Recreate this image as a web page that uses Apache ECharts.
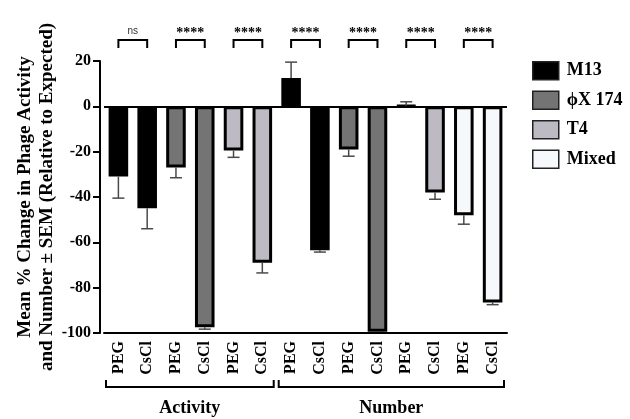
<!DOCTYPE html>
<html>
<head>
<meta charset="utf-8">
<script src="https://cdn.jsdelivr.net/npm/echarts@6/dist/echarts.min.js"></script>
<style>
  html, body { margin: 0; padding: 0; background: #fff; }
  #chart { width: 630px; height: 419px; }
</style>
</head>
<body>
<div id="chart"></div>
<script>
// categories along the x axis
const categories = ["PEG", "CsCl", "PEG", "CsCl", "PEG", "CsCl",
  "PEG", "CsCl", "PEG", "CsCl", "PEG", "CsCl", "PEG", "CsCl"];
// mean % change and SEM per bar
const means = [-31, -45, -27, -97.5, -19.5, -69, 12.5, -63.5, -19, -99.5, 0.3, -38, -48, -86.5];
const sem = [9.5, 9, 4.5, 0.8, 3, 4.5, 7, 0.8, 3, 0, 1.7, 3, 4, 1];
// which phage each bar belongs to
const phageOf = [0, 0, 1, 1, 2, 2, 0, 0, 1, 1, 2, 2, 3, 3];
const phages = ["M13", "ϕX 174", "T4", "Mixed"];
const phageColors = ["#000000", "#747474", "#bdbac4", "#f6f8fb"];
// significance comparisons (first index, second index, label)
const sigPairs = [[0, 1], [2, 3], [4, 5], [6, 7], [8, 9], [10, 11], [12, 13]];
const sigLabels = ["ns", "****", "****", "****", "****", "****", "****"];
// grouping brackets under the axis
const groups = [[0, 5], [6, 13]];
const groupNames = ["Activity", "Number"];
const yTicks = { min: -100, max: 20, interval: 20 };

const serif = "Liberation Serif";
const chart = echarts.init(document.getElementById("chart"));

const barSeries = phages.map((name, k) => ({
  name: name,
  type: "bar",
  stack: "all",
  barWidth: "68%",
  data: means.map((v, i) => (phageOf[i] === k ? v : "-")),
  itemStyle: {
    color: phageColors[k],
    borderColor: "#000",
    borderWidth: 3
  },
  markLine: k === 0 ? {
    silent: true,
    symbol: "none",
    label: { show: false },
    lineStyle: { color: "#000", width: 2, type: "solid" },
    data: [{ yAxis: 0 }]
  } : undefined
}));

const errorSeries = {
  type: "custom",
  z: 5,
  data: means.map((v, i) => [i, v, sem[i]]),
  renderItem: (params, api) => {
    const v = api.value(1);
    const e = api.value(2);
    if (e <= 0) return null;
    const dir = v >= 0 ? 1 : -1;
    const p0 = api.coord([api.value(0), v]);
    const p1 = api.coord([api.value(0), v + dir * e]);
    const style = { stroke: "#4a4a4a", lineWidth: 1.5 };
    return {
      type: "group",
      children: [
        { type: "line", shape: { x1: p0[0], y1: p0[1], x2: p1[0], y2: p1[1] }, style },
        { type: "line", shape: { x1: p1[0] - 6, y1: p1[1], x2: p1[0] + 6, y2: p1[1] }, style }
      ]
    };
  }
};

const sigSeries = {
  type: "custom",
  silent: true,
  clip: false,
  data: sigPairs.map(p => [p[0], yTicks.max, p[1]]),
  renderItem: (params, api) => {
    const a = api.coord([api.value(0), yTicks.max]);
    const b = api.coord([api.value(2), yTicks.max]);
    const top = a[1] - 21;
    const label = sigLabels[params.dataIndex];
    const isNs = label === "ns";
    return {
      type: "group",
      children: [
        {
          type: "polyline",
          shape: { points: [[a[0], top + 8], [a[0], top], [b[0], top], [b[0], top + 8]] },
          style: { stroke: "#000", lineWidth: 2, fill: null }
        },
        {
          type: "text",
          x: (a[0] + b[0]) / 2,
          y: top - (isNs ? 9 : 7),
          style: {
            text: label,
            fill: isNs ? "#333" : "#000",
            font: isNs ? "normal 10px 'Liberation Sans'" : "bold 14px 'Liberation Serif'",
            align: "center",
            verticalAlign: "middle"
          }
        }
      ]
    };
  }
};

const groupSeries = {
  type: "custom",
  silent: true,
  clip: false,
  data: groups.map(g => [g[0], yTicks.min, g[1]]),
  renderItem: (params, api) => {
    const band = api.size([1, 0])[0];
    const a = api.coord([api.value(0), yTicks.min]);
    const b = api.coord([api.value(2), yTicks.min]);
    const x1 = a[0] - band / 2 + 2;
    const x2 = b[0] + band / 2 - 3;
    const y = a[1] + 54;
    return {
      type: "group",
      children: [
        {
          type: "polyline",
          shape: { points: [[x1, y - 7], [x1, y], [x2, y], [x2, y - 7]] },
          style: { stroke: "#000", lineWidth: 2, fill: null }
        },
        {
          type: "text",
          x: (x1 + x2) / 2,
          y: y + 21,
          style: {
            text: groupNames[params.dataIndex],
            fill: "#000",
            font: "bold 18px 'Liberation Serif'",
            align: "center",
            verticalAlign: "middle"
          }
        }
      ]
    };
  }
};

chart.setOption({
  animation: false,
  backgroundColor: "#fff",
  grid: { left: 104, right: 123, top: 61, bottom: 86, containLabel: false },
  legend: {
    data: phages,
    orient: "vertical",
    left: 527,
    top: 56,
    icon: "rect",
    itemWidth: 26,
    itemHeight: 18,
    itemGap: 10,
    itemStyle: { borderColor: "#222", borderWidth: 1.5 },
    textStyle: { fontFamily: serif, fontWeight: "bold", fontSize: 18, color: "#000", padding: [0, 0, 0, 3] }
  },
  xAxis: {
    type: "category",
    data: categories,
    axisLine: { onZero: false, lineStyle: { color: "#000", width: 2 } },
    axisTick: { alignWithLabel: true, length: 6, lineStyle: { color: "#000", width: 2 } },
    axisLabel: {
      interval: 0,
      rotate: 90,
      margin: 8,
      color: "#000",
      fontFamily: serif,
      fontWeight: "bold",
      fontSize: 16
    },
    splitLine: { show: false }
  },
  yAxis: {
    type: "value",
    min: yTicks.min,
    max: yTicks.max,
    interval: yTicks.interval,
    offset: 4,
    name: "Mean % Change in Phage Activity\nand Number ± SEM (Relative to Expected)",
    nameLocation: "middle",
    nameRotate: 90,
    nameGap: 42,
    nameMoveOverlap: false,
    nameTextStyle: {
      fontFamily: serif,
      fontWeight: "bold",
      fontSize: 19,
      lineHeight: 22,
      color: "#000"
    },
    axisLine: { show: true, lineStyle: { color: "#000", width: 2 } },
    axisTick: { show: true, length: 7, lineStyle: { color: "#000", width: 2 } },
    axisLabel: {
      margin: 9,
      color: "#000",
      fontFamily: serif,
      fontWeight: "bold",
      fontSize: 16
    },
    splitLine: { show: false }
  },
  series: [...barSeries, errorSeries, sigSeries, groupSeries]
});
</script>
</body>
</html>
